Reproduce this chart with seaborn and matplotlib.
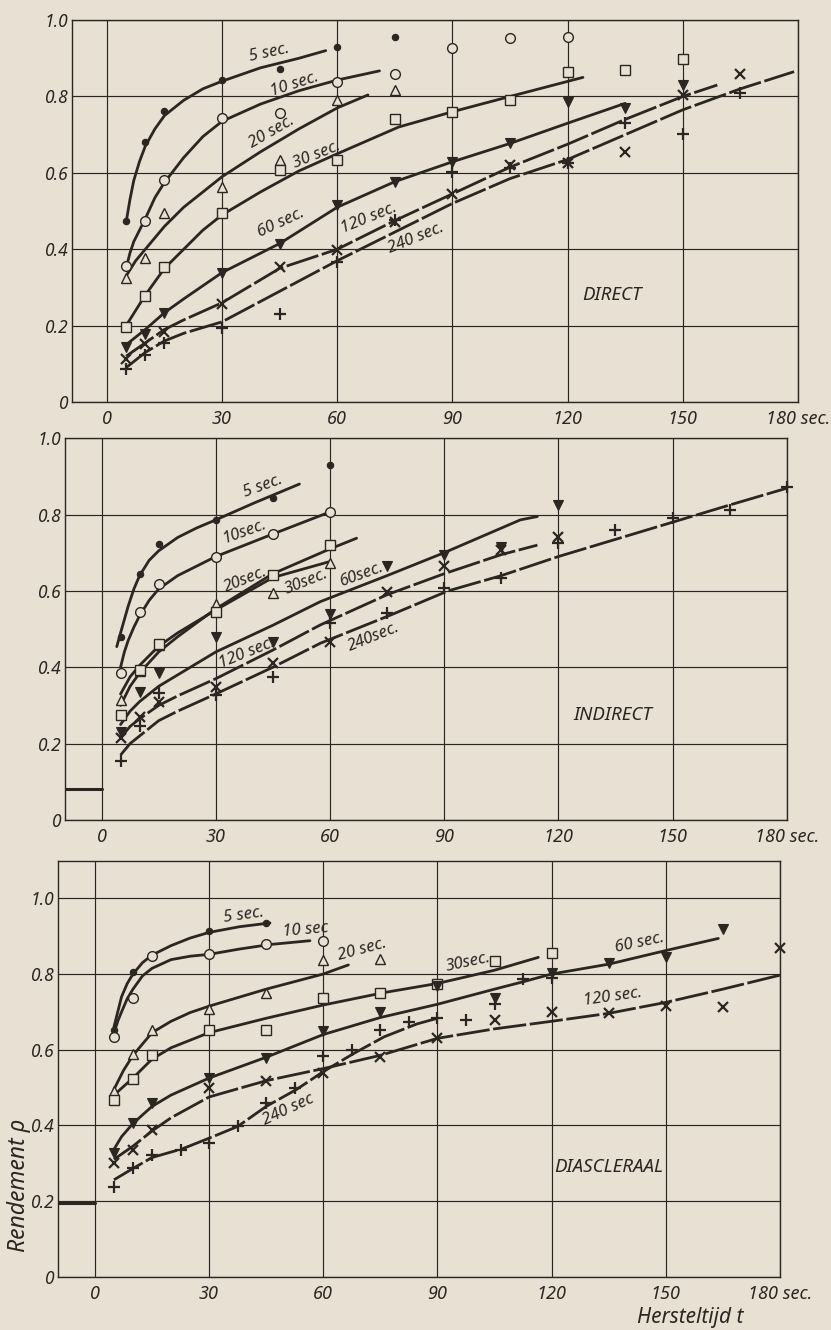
import matplotlib
matplotlib.use("Agg")
import matplotlib.pyplot as plt
import seaborn as sns

# ------------------------------------------------------------------
# Efficiency rho against recovery time t, for exposure times of
# 5 ... 240 s, under three illumination conditions.
# ------------------------------------------------------------------

DURATIONS = ["5", "10", "20", "30", "60", "120", "240"]
PANEL_NAMES = ["DIRECT", "INDIRECT", "DIASCLERAAL"]

X_TICKS = [0, 30, 60, 90, 120, 150, 180]
X_TICK_LABELS = ["0", "30", "60", "90", "120", "150", "180 sec."]
Y_TICKS = [0, 0.2, 0.4, 0.6, 0.8, 1.0]
Y_TICK_LABELS = ["0", "0.2", "0.4", "0.6", "0.8", "1.0"]

# ---------------- DIRECT: measured points ----------------
direct_t_5 = [5, 10, 15, 30, 45, 60, 75]
direct_v_5 = [0.474, 0.681, 0.762, 0.843, 0.872, 0.930, 0.956]
direct_t_10 = [5, 10, 15, 30, 45, 60, 75, 90, 105, 120]
direct_v_10 = [0.356, 0.474, 0.581, 0.743, 0.756, 0.838, 0.860, 0.926, 0.952, 0.956]
direct_t_20 = [5, 10, 15, 30, 45, 60, 75]
direct_v_20 = [0.324, 0.376, 0.494, 0.564, 0.634, 0.791, 0.818]
direct_t_30 = [5, 10, 15, 30, 45, 60, 75, 90, 105, 120, 135, 150]
direct_v_30 = [0.197, 0.277, 0.353, 0.494, 0.607, 0.634, 0.740, 0.760, 0.791, 0.865, 0.869, 0.897]
direct_t_60 = [5, 10, 15, 30, 45, 60, 75, 90, 105, 120, 135, 150]
direct_v_60 = [0.145, 0.178, 0.234, 0.339, 0.415, 0.516, 0.577, 0.629, 0.679, 0.786, 0.769, 0.830]
direct_t_120 = [5, 10, 15, 30, 45, 60, 75, 90, 105, 120, 135, 150, 165]
direct_v_120 = [0.114, 0.152, 0.184, 0.257, 0.353, 0.398, 0.472, 0.546, 0.620, 0.625, 0.655, 0.804, 0.860]
direct_t_240 = [5, 10, 15, 30, 45, 60, 75, 90, 105, 120, 135, 150, 165]
direct_v_240 = [0.086, 0.123, 0.155, 0.193, 0.230, 0.367, 0.476, 0.603, 0.612, 0.625, 0.730, 0.703, 0.808]

# ---------------- DIRECT: fitted curves ----------------
direct_ct_5 = [5, 6, 7, 8.5, 10, 12.5, 15, 20, 25, 30, 40, 50, 57]
direct_cv_5 = [0.47, 0.53, 0.58, 0.63, 0.67, 0.715, 0.75, 0.79, 0.82, 0.84, 0.875, 0.90, 0.92]
direct_ct_10 = [5, 6, 7, 8.5, 10, 12.5, 15, 20, 25, 30, 40, 50, 60, 71]
direct_cv_10 = [0.35, 0.39, 0.42, 0.45, 0.48, 0.535, 0.575, 0.64, 0.695, 0.735, 0.78, 0.815, 0.843, 0.867]
direct_ct_20 = [5, 7.5, 10, 15, 20, 25, 30, 40, 50, 60, 68]
direct_cv_20 = [0.33, 0.37, 0.40, 0.46, 0.51, 0.55, 0.59, 0.655, 0.715, 0.77, 0.804]
direct_ct_30 = [5, 7.5, 10, 15, 20, 25, 30, 40, 50, 60, 76, 90, 105, 124]
direct_cv_30 = [0.20, 0.24, 0.28, 0.35, 0.40, 0.45, 0.49, 0.55, 0.605, 0.65, 0.72, 0.76, 0.80, 0.85]
direct_ct_60 = [5, 7.5, 10, 15, 20, 30, 45, 60, 75, 90, 105, 120, 135]
direct_cv_60 = [0.15, 0.17, 0.19, 0.234, 0.27, 0.339, 0.415, 0.51, 0.577, 0.629, 0.677, 0.73, 0.782]
direct_ct_120 = [5, 10, 15, 20, 30, 45, 60, 75, 90, 105, 120, 135, 150, 159]
direct_cv_120 = [0.12, 0.155, 0.19, 0.215, 0.26, 0.35, 0.40, 0.475, 0.545, 0.615, 0.675, 0.74, 0.80, 0.83]
direct_ct_240 = [5, 10, 15, 20, 30, 45, 60, 75, 90, 105, 120, 135, 150, 165, 179]
direct_cv_240 = [0.09, 0.13, 0.16, 0.18, 0.21, 0.29, 0.37, 0.445, 0.52, 0.585, 0.635, 0.70, 0.765, 0.82, 0.865]

# ---------------- INDIRECT: measured points ----------------
indirect_t_5 = [5, 10, 15, 30, 45, 60]
indirect_v_5 = [0.478, 0.645, 0.724, 0.786, 0.843, 0.930]
indirect_t_10 = [5, 10, 15, 30, 45, 60]
indirect_v_10 = [0.386, 0.545, 0.617, 0.689, 0.749, 0.808]
indirect_t_20 = [5, 10, 15, 30, 45, 60]
indirect_v_20 = [0.314, 0.389, 0.458, 0.565, 0.594, 0.672]
indirect_t_30 = [5, 10, 15, 30, 45, 60]
indirect_v_30 = [0.275, 0.392, 0.460, 0.546, 0.642, 0.719]
indirect_t_60 = [5, 10, 15, 30, 45, 60, 75, 90, 105, 120]
indirect_v_60 = [0.231, 0.336, 0.384, 0.478, 0.467, 0.539, 0.666, 0.695, 0.716, 0.825]
indirect_t_120 = [5, 10, 15, 30, 45, 60, 75, 90, 105, 120]
indirect_v_120 = [0.214, 0.270, 0.310, 0.349, 0.410, 0.467, 0.598, 0.664, 0.707, 0.742]
indirect_t_240 = [5, 10, 15, 30, 45, 60, 75, 90, 105, 120, 135, 150, 165, 180]
indirect_v_240 = [0.155, 0.246, 0.332, 0.328, 0.375, 0.515, 0.541, 0.607, 0.633, 0.725, 0.760, 0.790, 0.812, 0.873]

# ---------------- INDIRECT: fitted curves ----------------
indirect_ct_5 = [4, 5, 6, 7, 8.5, 10, 12.5, 15, 20, 25, 30, 40, 52]
indirect_cv_5 = [0.454, 0.49, 0.525, 0.56, 0.605, 0.64, 0.68, 0.705, 0.74, 0.765, 0.786, 0.83, 0.88]
indirect_ct_10 = [5, 6, 7, 8.5, 10, 12.5, 15, 20, 25, 30, 45, 59]
indirect_cv_10 = [0.40, 0.44, 0.47, 0.505, 0.535, 0.575, 0.605, 0.64, 0.665, 0.69, 0.749, 0.803]
indirect_ct_20 = [5, 7.5, 10, 15, 20, 30, 45, 60]
indirect_cv_20 = [0.33, 0.375, 0.405, 0.455, 0.49, 0.55, 0.635, 0.677]
indirect_ct_30 = [5, 7.5, 10, 15, 20, 30, 45, 60, 67]
indirect_cv_30 = [0.30, 0.35, 0.385, 0.44, 0.48, 0.553, 0.645, 0.71, 0.738]
indirect_ct_60 = [5, 7.5, 10, 15, 20, 30, 45, 57.5, 75, 90, 110, 114.5]
indirect_cv_60 = [0.25, 0.285, 0.31, 0.35, 0.38, 0.44, 0.51, 0.572, 0.64, 0.70, 0.786, 0.795]
indirect_ct_120 = [5, 7.5, 10, 15, 20, 30, 45, 57.5, 75, 90, 105, 114.5]
indirect_cv_120 = [0.215, 0.245, 0.265, 0.30, 0.325, 0.37, 0.445, 0.511, 0.59, 0.645, 0.695, 0.72]
indirect_ct_240 = [5, 7.5, 10, 15, 20, 30, 45, 57.5, 76, 91, 105, 120, 135, 150, 165, 180]
indirect_cv_240 = [0.17, 0.20, 0.22, 0.26, 0.285, 0.33, 0.40, 0.463, 0.537, 0.60, 0.64, 0.69, 0.735, 0.78, 0.825, 0.869]

# ---------------- DIASCLERAAL: measured points ----------------
diascl_t_5 = [5, 10, 15, 30, 45]
diascl_v_5 = [0.652, 0.804, 0.848, 0.914, 0.934]
diascl_t_10 = [5, 10, 15, 30, 45, 60]
diascl_v_10 = [0.634, 0.736, 0.848, 0.852, 0.878, 0.887]
diascl_t_20 = [5, 10, 15, 30, 45, 60, 75]
diascl_v_20 = [0.491, 0.589, 0.652, 0.707, 0.751, 0.837, 0.839]
diascl_t_30 = [5, 10, 15, 30, 45, 60, 75, 90, 105, 120]
diascl_v_30 = [0.467, 0.522, 0.587, 0.653, 0.653, 0.736, 0.751, 0.773, 0.835, 0.855]
diascl_t_60 = [5, 10, 15, 30, 45, 60, 75, 90, 105, 120, 135, 150, 165]
diascl_v_60 = [0.327, 0.405, 0.460, 0.524, 0.578, 0.649, 0.699, 0.768, 0.736, 0.802, 0.828, 0.844, 0.918]
diascl_t_120 = [5, 10, 15, 30, 45, 60, 75, 90, 105, 120, 135, 150, 165, 180]
diascl_v_120 = [0.300, 0.335, 0.387, 0.498, 0.518, 0.539, 0.580, 0.630, 0.678, 0.700, 0.696, 0.716, 0.714, 0.868]
diascl_t_240 = [5, 10, 15, 22.5, 30, 37.5, 45, 52.5, 60, 67.5, 75, 82.5, 90, 97.5, 105, 112.5, 120]
diascl_v_240 = [0.237, 0.286, 0.322, 0.335, 0.352, 0.397, 0.458, 0.498, 0.582, 0.600, 0.651, 0.674, 0.683, 0.678, 0.720, 0.786, 0.789]

# ---------------- DIASCLERAAL: fitted curves ----------------
diascl_ct_5 = [5, 6, 7, 8.5, 10, 12.5, 15, 20, 25, 30, 38, 46]
diascl_cv_5 = [0.66, 0.70, 0.74, 0.775, 0.80, 0.83, 0.85, 0.875, 0.895, 0.91, 0.925, 0.935]
diascl_ct_10 = [5, 6, 7, 8.5, 10, 12.5, 15, 20, 25, 30, 38, 46, 56.5]
diascl_cv_10 = [0.643, 0.675, 0.70, 0.735, 0.76, 0.795, 0.815, 0.838, 0.847, 0.852, 0.866, 0.878, 0.888]
diascl_ct_20 = [5, 7.5, 10, 15, 20, 25, 30, 45, 60, 66.6]
diascl_cv_20 = [0.495, 0.545, 0.585, 0.645, 0.675, 0.698, 0.715, 0.76, 0.80, 0.824]
diascl_ct_30 = [5, 10, 15, 20, 30, 45, 60, 76, 90, 105, 116.5]
diascl_cv_30 = [0.48, 0.525, 0.575, 0.605, 0.645, 0.683, 0.718, 0.751, 0.775, 0.81, 0.844]
diascl_ct_60 = [4.6, 7, 10, 15, 20, 30, 45, 60, 75, 90, 105, 112.7, 120, 135, 150, 163.8]
diascl_cv_60 = [0.33, 0.37, 0.405, 0.45, 0.48, 0.525, 0.58, 0.64, 0.685, 0.72, 0.76, 0.78, 0.80, 0.826, 0.862, 0.894]
diascl_ct_120 = [5, 10, 15, 20, 30, 45, 60, 75, 90, 105, 120, 135, 150, 165, 180]
diascl_cv_120 = [0.31, 0.345, 0.385, 0.42, 0.475, 0.518, 0.55, 0.585, 0.63, 0.655, 0.675, 0.696, 0.725, 0.76, 0.797]
diascl_ct_240 = [5, 10, 15, 23, 30, 37.5, 45, 53, 60, 68, 76, 84.6, 90]
diascl_cv_240 = [0.256, 0.286, 0.315, 0.338, 0.366, 0.397, 0.45, 0.495, 0.542, 0.59, 0.634, 0.668, 0.683]

# Resting (unexposed) level marked at the left margin
indirect_rest = 0.08
diascl_rest = 0.195

# Curve labels per panel
direct_curve_labels = ["5 sec.", "10 sec.", "20 sec.", "30 sec.", "60 sec.", "120 sec.", "240 sec."]
indirect_curve_labels = ["5 sec.", "10sec.", "20sec.", "30sec.", "60sec.", "120 sec.", "240sec."]
diascl_curve_labels = ["5 sec.", "10 sec", "20 sec.", "30sec.", "60 sec.", "120 sec.", "240 sec"]

# ------------------------------------------------------------------
# Layout and styling
# ------------------------------------------------------------------
PAPER = "#e8e0d3"
INK = "#2b2622"
FIG_W, FIG_H = 8.31, 13.3

AXES_BOX = [
    [0.0866, 0.6977, 0.8736, 0.2872],
    [0.0782, 0.3835, 0.8685, 0.2870],
    [0.0698, 0.0401, 0.8688, 0.3129],
]
XLIMS = [(-9.1, 180), (-9.6, 180), (-9.7, 180)]
YLIMS = [(0, 1.0), (0, 1.0), (0, 1.1)]

# (t, rho, rotation) anchor of each curve label
LABEL_PLACES = [
    [(42.3, 0.914, 12), (49.0, 0.832, 18), (42.8, 0.708, 30), (54.6, 0.647, 22),
     (45.4, 0.468, 25), (68.3, 0.481, 22), (80.4, 0.428, 22)],
    [(42.5, 0.873, 20), (37.7, 0.755, 20), (37.9, 0.629, 22), (53.9, 0.624, 22),
     (68.4, 0.644, 20), (38.2, 0.438, 22), (71.5, 0.479, 22)],
    [(39.0, 0.956, 8), (55.3, 0.916, 5), (70.3, 0.864, 15), (98.0, 0.831, 12),
     (143.2, 0.881, 12), (136.1, 0.739, 8), (50.9, 0.442, 25)],
]
NAME_PLACES = [(131.5, 0.28), (134.2, 0.275), (135.0, 0.29)]

MARKER_STYLES = {
    "5": dict(marker="o", markersize=4.6, markerfacecolor=INK, markeredgewidth=0.8),
    "10": dict(marker="o", markersize=7.0, markerfacecolor=PAPER, markeredgewidth=1.0),
    "20": dict(marker="^", markersize=7.5, markerfacecolor=PAPER, markeredgewidth=1.0),
    "30": dict(marker="s", markersize=6.5, markerfacecolor=PAPER, markeredgewidth=1.0),
    "60": dict(marker="v", markersize=7.5, markerfacecolor=INK, markeredgewidth=0.8),
    "120": dict(marker="x", markersize=6.5, markerfacecolor=INK, markeredgewidth=1.6),
    "240": dict(marker="+", markersize=8.0, markerfacecolor=INK, markeredgewidth=1.6),
}
DASHED = (0, (12, 1.3))

sns.set_style("white")
plt.rcParams.update({
    "figure.facecolor": PAPER,
    "axes.facecolor": PAPER,
    "savefig.facecolor": PAPER,
    "text.color": INK,
    "axes.edgecolor": INK,
    "xtick.color": INK,
    "ytick.color": INK,
    "font.style": "italic",
    "font.stretch": "condensed",
})
plt.rcParams["font.family"] = ["Noto Sans", "DejaVu Sans"]

panel_points = [
    [(direct_t_5, direct_v_5), (direct_t_10, direct_v_10), (direct_t_20, direct_v_20),
     (direct_t_30, direct_v_30), (direct_t_60, direct_v_60), (direct_t_120, direct_v_120),
     (direct_t_240, direct_v_240)],
    [(indirect_t_5, indirect_v_5), (indirect_t_10, indirect_v_10), (indirect_t_20, indirect_v_20),
     (indirect_t_30, indirect_v_30), (indirect_t_60, indirect_v_60), (indirect_t_120, indirect_v_120),
     (indirect_t_240, indirect_v_240)],
    [(diascl_t_5, diascl_v_5), (diascl_t_10, diascl_v_10), (diascl_t_20, diascl_v_20),
     (diascl_t_30, diascl_v_30), (diascl_t_60, diascl_v_60), (diascl_t_120, diascl_v_120),
     (diascl_t_240, diascl_v_240)],
]
panel_curves = [
    [(direct_ct_5, direct_cv_5), (direct_ct_10, direct_cv_10), (direct_ct_20, direct_cv_20),
     (direct_ct_30, direct_cv_30), (direct_ct_60, direct_cv_60), (direct_ct_120, direct_cv_120),
     (direct_ct_240, direct_cv_240)],
    [(indirect_ct_5, indirect_cv_5), (indirect_ct_10, indirect_cv_10), (indirect_ct_20, indirect_cv_20),
     (indirect_ct_30, indirect_cv_30), (indirect_ct_60, indirect_cv_60), (indirect_ct_120, indirect_cv_120),
     (indirect_ct_240, indirect_cv_240)],
    [(diascl_ct_5, diascl_cv_5), (diascl_ct_10, diascl_cv_10), (diascl_ct_20, diascl_cv_20),
     (diascl_ct_30, diascl_cv_30), (diascl_ct_60, diascl_cv_60), (diascl_ct_120, diascl_cv_120),
     (diascl_ct_240, diascl_cv_240)],
]
panel_labels = [direct_curve_labels, indirect_curve_labels, diascl_curve_labels]
panel_rest = [None, indirect_rest, diascl_rest]

fig = plt.figure(figsize=(FIG_W, FIG_H), dpi=100)

for k in range(3):
    ax = fig.add_axes(AXES_BOX[k])
    ax.set_xlim(*XLIMS[k])
    ax.set_ylim(*YLIMS[k])

    # curves
    for dur, (ct, cv) in zip(DURATIONS, panel_curves[k]):
        ls = DASHED if dur in ("120", "240") else "-"
        sns.lineplot(x=ct, y=cv, ax=ax, estimator=None, sort=False, color=INK,
                     linewidth=2.0, linestyle=ls, zorder=3,
                     solid_capstyle="round", dash_capstyle="butt")

    # measured points
    for dur, (pt, pv) in zip(DURATIONS, panel_points[k]):
        sns.lineplot(x=pt, y=pv, ax=ax, estimator=None, sort=False, color=INK,
                     linestyle="", markeredgecolor=INK, zorder=5, clip_on=False,
                     **MARKER_STYLES[dur])

    # resting level
    if panel_rest[k] is not None:
        sns.lineplot(x=[XLIMS[k][0], 0], y=[panel_rest[k], panel_rest[k]], ax=ax,
                     estimator=None, sort=False, color=INK, linewidth=2.2, zorder=3)

    # curve labels
    for text, (lx, ly, rot) in zip(panel_labels[k], LABEL_PLACES[k]):
        ax.text(lx, ly, text, rotation=rot, ha="center", va="center",
                fontsize=12, color=INK, rotation_mode="anchor", zorder=6)

    nx, ny = NAME_PLACES[k]
    ax.text(nx, ny, PANEL_NAMES[k], ha="center", va="center", fontsize=13.5, color=INK)

    ax.set_xticks(X_TICKS)
    ax.set_xticklabels(X_TICK_LABELS, fontstyle="italic")
    ax.set_yticks(Y_TICKS)
    ax.set_yticklabels(Y_TICK_LABELS, fontstyle="italic")
    ax.tick_params(axis="both", length=0, labelsize=13, colors=INK)
    ax.tick_params(axis="x", pad=6)
    ax.tick_params(axis="y", pad=3, labelsize=12.5)
    ax.grid(True, color=INK, linewidth=0.85)
    ax.set_axisbelow(True)
    for sp in ax.spines.values():
        sp.set_visible(True)
        sp.set_color(INK)
        sp.set_linewidth(1.0)
    ax.set_xlabel("")
    ax.set_ylabel("")

fig.text(19 / 831, 1 - 1185 / 1330, "Rendement \u03c1", rotation=90, ha="center",
         va="center", fontsize=16.5, color=INK, fontstyle="italic")
fig.text(690 / 831, 1 - 1317 / 1330, "Hersteltijd t", ha="center", va="center",
         fontsize=15, color=INK, fontstyle="italic")

fig.savefig("out.png", dpi=100, facecolor=PAPER)
